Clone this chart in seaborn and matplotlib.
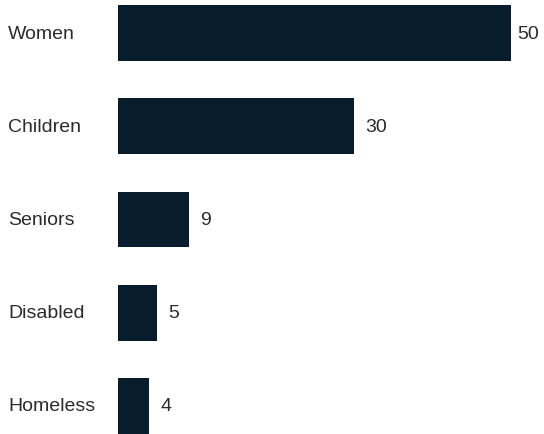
import matplotlib
matplotlib.use("Agg")
import matplotlib.pyplot as plt
import matplotlib.transforms as mtransforms
import seaborn as sns
import pandas as pd

categories = ["Women", "Children", "Seniors", "Disabled", "Homeless"]
values = [50, 30, 9, 5, 4]

bar_color = "#071d2e"
text_color = "#2b2b2b"

sns.set_theme(style="white")
plt.rcParams["font.family"] = ["Liberation Sans", "DejaVu Sans"]

df = pd.DataFrame({"group": categories, "count": values})

fig = plt.figure(figsize=(5.44, 4.35), dpi=100)
ax = fig.add_axes([118 / 544, 0, 1 - 118 / 544, 1])

sns.barplot(data=df, y="group", x="count", orient="h", color=bar_color,
            saturation=1, width=0.6, linewidth=0, ax=ax)

ax.set_xlim(0, (544 - 118) / 7.86)
ax.set_ylim(4 + 28 / 93.25, -34 / 93.25)
ax.set_axis_off()

label_tf = mtransforms.blended_transform_factory(fig.transFigure, ax.transData)
for i, (cat, val) in enumerate(zip(categories, values)):
    ax.text(8 / 544, i, cat, transform=label_tf, ha="left", va="center",
            fontsize=14, color=text_color)
    # keep the value label inside the canvas for the longest bar
    off = 4.5 if val == max(values) else 8
    ax.annotate(str(val), xy=(val, i), xytext=(off, 0), textcoords="offset points",
                ha="left", va="center", fontsize=14, color=text_color)

fig.savefig("out.png", dpi=100)
